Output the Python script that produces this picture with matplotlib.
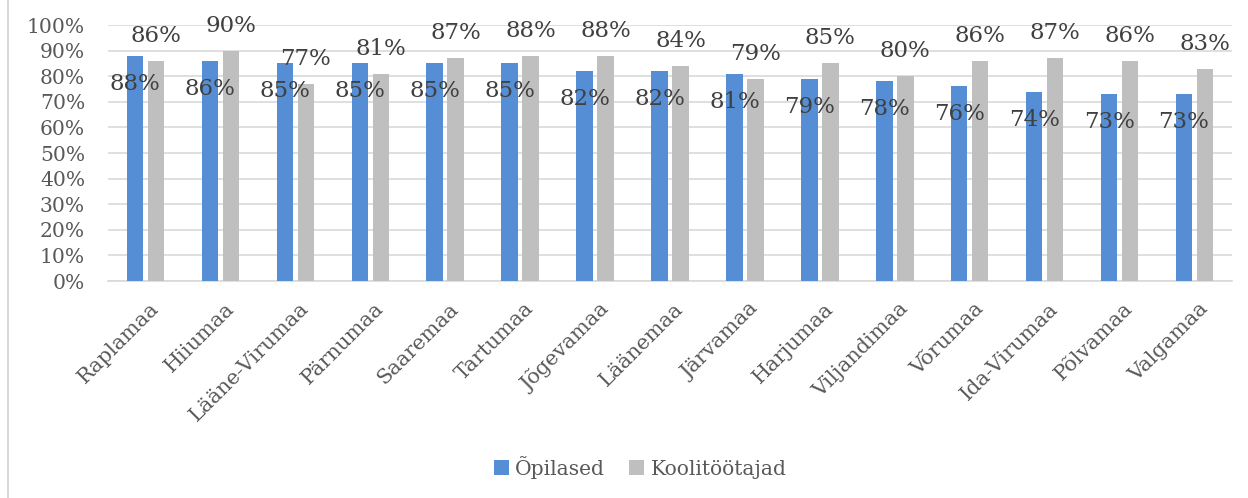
import matplotlib
matplotlib.use("Agg")
import matplotlib.pyplot as plt
from matplotlib.lines import Line2D
from matplotlib.patches import Patch
import numpy as np

maakonnad = ["Raplamaa", "Hiiumaa", "Lääne-Virumaa", "Pärnumaa", "Saaremaa",
             "Tartumaa", "Jõgevamaa", "Läänemaa", "Järvamaa", "Harjumaa",
             "Viljandimaa", "Võrumaa", "Ida-Virumaa", "Põlvamaa", "Valgamaa"]
opilased = [88, 86, 85, 85, 85, 85, 82, 82, 81, 79, 78, 76, 74, 73, 73]
koolitootajad = [86, 90, 77, 81, 87, 88, 88, 84, 79, 85, 80, 86, 87, 86, 83]

BLUE = "#558ED5"
GRAY = "#BFBFBF"
TXT = "#404040"
TICK = "#595959"
FONT = "DejaVu Serif"

fig = plt.figure(figsize=(12.48, 4.98), dpi=100)
ax = fig.add_axes([108 / 1248, 1 - 281 / 498, 1124 / 1248, 256 / 498])

x = np.arange(len(maakonnad))
w = 0.22
off = 0.14
ax.bar(x - off, np.array(opilased) / 100, w, color=BLUE, zorder=3)
ax.bar(x + off, np.array(koolitootajad) / 100, w, color=GRAY, zorder=3)

# sildid: õpilased tulba sees, koolitöötajad tulba kohal
for xi, v in zip(x, opilased):
    ax.annotate(f"{v}%", (xi - off, v / 100), xytext=(0, -28),
                textcoords="offset pixels", ha="center", va="center",
                fontsize=16.5, color=TXT, family=FONT, zorder=4)
for xi, v in zip(x, koolitootajad):
    ax.annotate(f"{v}%", (xi + off, v / 100), xytext=(0, 25),
                textcoords="offset pixels", ha="center", va="center",
                fontsize=16.5, color=TXT, family=FONT, zorder=4)

ax.set_xlim(-0.5, len(maakonnad) - 0.5)
ax.set_ylim(0, 1)
ticks = np.arange(0, 1.01, 0.1)
ax.set_yticks(ticks)
ax.set_yticklabels([f"{int(round(t * 100))}%" for t in ticks],
                   fontsize=14.6, color=TICK, family=FONT)
ax.yaxis.grid(True, color="#D9D9D9", lw=1.2, zorder=0)
ax.set_axisbelow(True)
ax.tick_params(axis="y", length=0, pad=16.5)
ax.tick_params(axis="x", length=0, pad=13)
ax.set_xticks(x + 0.05)
ax.set_xticklabels(maakonnad, rotation=45, ha="right", rotation_mode="anchor",
                   fontsize=15, color=TICK, family=FONT)
for s in ["top", "right", "left"]:
    ax.spines[s].set_visible(False)
ax.spines["bottom"].set_color("#D9D9D9")
ax.spines["bottom"].set_linewidth(1.2)

handles = [Patch(facecolor=BLUE, label="Õpilased"),
           Patch(facecolor=GRAY, label="Koolitöötajad")]
fig.legend(handles=handles, loc="center", bbox_to_anchor=(640 / 1248, 1 - 467 / 498),
           ncol=2, frameon=False, handlelength=0.75, handleheight=0.75,
           handletextpad=0.3, columnspacing=1.2,
           prop={"family": FONT, "size": 14.6}, labelcolor=TICK)

# diagrammi raam (vasak serv)
fig.add_artist(Line2D([7.5 / 1248, 7.5 / 1248], [0, 1], color="#D9D9D9", lw=1.5,
                      transform=fig.transFigure))

fig.savefig("out.png", dpi=100)
